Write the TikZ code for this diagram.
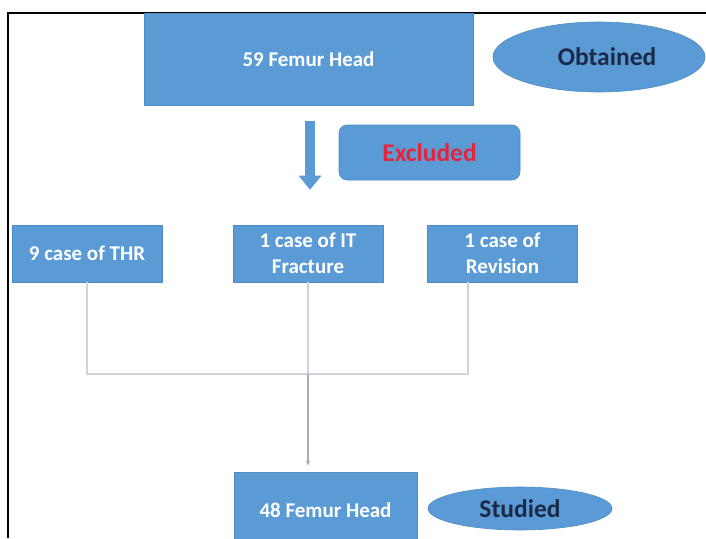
\documentclass[tikz,border=0pt]{standalone}
\usepackage{fontspec}
\setmainfont{Carlito}
\usetikzlibrary{shapes.geometric,positioning,arrows.meta,calc}

\definecolor{boxblue}{HTML}{5B9BD5}
\definecolor{boxedge}{HTML}{4F8CC6}
\definecolor{navytext}{HTML}{1B2A47}
\definecolor{exred}{HTML}{E3263E}
\definecolor{linkgray}{HTML}{CDD4DB}
\definecolor{arrowgray}{HTML}{A8ADB3}

\begin{document}
\begin{tikzpicture}[
  x=1pt, y=-1pt,
  stage/.style={rectangle, draw=boxedge, line width=0.6pt, fill=boxblue, align=center, text=white, font=\fontsize{21}{26}\selectfont\bfseries, inner sep=2pt},
  tag/.style={ellipse, draw=boxedge, line width=0.6pt, fill=boxblue, text=navytext, font=\fontsize{25.5}{30}\selectfont\bfseries, inner sep=0pt},
  note/.style={rectangle, rounded corners=8pt, draw=boxedge, line width=0.6pt, fill=boxblue, text=exred, font=\fontsize{25.5}{30}\selectfont\bfseries},
  fatarrow/.style={-{Triangle[width=22pt, length=14pt]}, line width=10pt, draw=boxblue},
  link/.style={draw=linkgray, line width=2pt},
  thinarrow/.style={-{Stealth[length=5pt, width=4pt]}, draw=arrowgray, line width=1.2pt},
]
\useasboundingbox (0,0) rectangle (706,538);

% frame
\draw[line width=1.5pt] (8,538) -- (8,13) -- (706,13);

% Top
\node[stage, minimum width=329pt, minimum height=92pt] (head59) at (308.5,59.5) {59 Femur Head};
\node[tag, minimum width=212pt, minimum height=70pt] (obtained) at (599,57) {\hspace*{16pt}Obtained};

% Excluded
\node[note, minimum width=181pt, minimum height=55pt] (excluded) at (429.5,152.5) {Excluded};

% Row of cases
\node[stage, minimum width=150pt, minimum height=57pt] (thr) at (87,253.5) {9 case of THR};
\node[stage, minimum width=150pt, minimum height=57pt] (itfrac) at (308,253.5) {1 case of IT\\Fracture};
\node[stage, minimum width=150pt, minimum height=57pt] (revision) at (502.5,253.5) {1 case of\\Revision};

% Bottom
\node[stage, minimum width=183pt, minimum height=76pt] (head48) at (325.5,510) {48 Femur Head};
\node[tag, minimum width=184pt, minimum height=43pt] (studied) at (520,508.5) {Studied};

% Flow arrows
\draw[fatarrow, shorten <=15pt, shorten >=35pt] ([xshift=1.5pt]head59.south) -- ([xshift=2pt]itfrac.north);

\coordinate (bar) at (308,374);
\draw[link] (thr.south) |- (bar) -| ([xshift=-34.5pt]revision.south);
\draw[link] (itfrac.south) -- (bar);
\draw[thinarrow, shorten >=6pt] (bar) -- (bar |- head48.north);

\end{tikzpicture}
\end{document}
